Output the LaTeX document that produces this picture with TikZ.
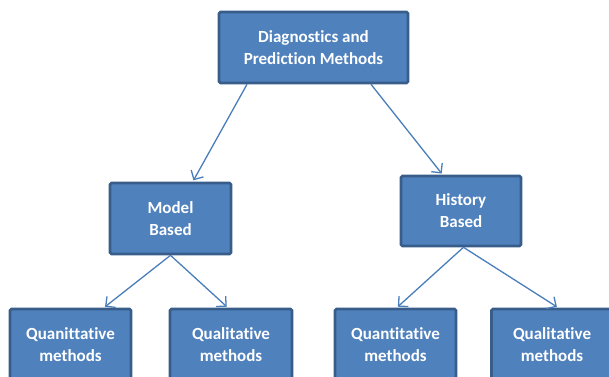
\documentclass[tikz,border=0pt]{standalone}
\usepackage{fontspec}
\setmainfont{Carlito}[Ligatures=NoCommon]
\usetikzlibrary{arrows.meta,calc}
\definecolor{boxfill}{HTML}{4F81BD}
\definecolor{boxborder}{HTML}{385D8A}
\definecolor{arrowc}{HTML}{4A7EBB}
\tikzset{
  box/.style={draw=boxborder, line width=2.6pt, fill=boxfill, rounded corners=1.5pt,
    text=white, font=\bfseries\fontsize{17}{22}\selectfont, align=center, inner sep=0pt},
  link/.style={draw=arrowc, line width=1.3pt, -{Straight Barb[length=7pt,width=14pt]}, shorten >=1.5pt}
}
\begin{document}
\begin{tikzpicture}[x=1pt,y=1pt]
\useasboundingbox (0,0) rectangle (609,376);
\node[box, minimum width=189pt, minimum height=71pt] (top) at (313.5,328.5) {Diagnostics and\\Prediction Methods};
\node[box, minimum width=121pt, minimum height=71pt] (model) at (170.5,157.5) {Model\\Based};
\node[box, minimum width=120pt, minimum height=70pt] (hist) at (461,165) {History\\Based};
\node[box, minimum width=121pt, minimum height=72pt] (q1) at (70.5,31) {Quanittative\\methods};
\node[box, minimum width=122pt, minimum height=72pt] (q2) at (231,31) {Qualitative\\methods};
\node[box, minimum width=121pt, minimum height=72pt] (q3) at (395.5,31) {Quantitative\\methods};
\node[box, minimum width=121pt, minimum height=72pt] (q4) at (552,31) {Qualitative\\methods};
\draw[link] ($(top.south west)!0.153!(top.south east)$) -- ($(model.north west)!0.68!(model.north east)$);
\draw[link] ($(top.south west)!0.8!(top.south east)$) -- ($(hist.north west)!0.35!(hist.north east)$);
\draw[link] ($(model.south west)!0.5!(model.south east)$) -- ($(q1.north west)!0.77!(q1.north east)$);
\draw[link] ($(model.south west)!0.5!(model.south east)$) -- ($(q2.north west)!0.475!(q2.north east)$);
\draw[link] ($(hist.south west)!0.52!(hist.south east)$) -- ($(q3.north west)!0.51!(q3.north east)$);
\draw[link] ($(hist.south west)!0.52!(hist.south east)$) -- ($(q4.north west)!0.55!(q4.north east)$);
\end{tikzpicture}
\end{document}
